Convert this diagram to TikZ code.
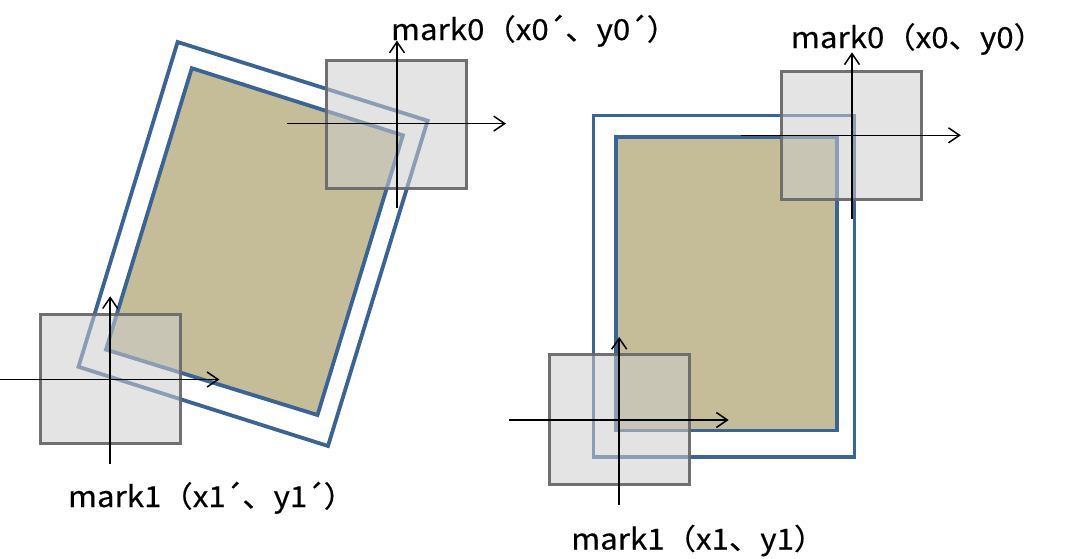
\documentclass[tikz,border=0pt]{standalone}
\usepackage{fontspec}
\setmainfont{Noto Sans CJK SC}[FakeStretch=1.08,FakeBold=0.4]
\usetikzlibrary{arrows.meta}
\definecolor{bluel}{HTML}{3B6496}
\definecolor{tanf}{HTML}{C4BD97}
\definecolor{sqf}{HTML}{CDCDCD}
\definecolor{sqd}{HTML}{6A6A6A}
\newcommand{\acu}{\kern-1.5pt´\kern-1pt}
\tikzset{
  outerbox/.style={draw=bluel, line width=3.8pt, fill=white, line join=miter},
  innerbox/.style={draw=bluel, line width=3.8pt, fill=tanf, line join=miter},
  marksq/.style={draw=sqd, draw opacity=0.95, line width=3pt, fill=sqf, fill opacity=0.55},
  axis/.style={draw=black, line width=1.5pt, -{Straight Barb[length=11pt,width=15pt,line width=1.5pt]}},
  lbl/.style={font=\fontsize{29}{33}\selectfont, inner sep=0pt, anchor=base west}
}
\begin{document}
\begin{tikzpicture}[x=1pt,y=-1pt]
\useasboundingbox (0,0) rectangle (1080,558);
% ---------- left (rotated) ----------
\coordinate (lo1) at (177.6,42);
\coordinate (lo2) at (427.6,120.7);
\coordinate (lo3) at (328,446);
\coordinate (lo4) at (78.5,366.8);
\coordinate (li1) at (191.8,68.2);
\coordinate (li2) at (402.9,135.3);
\coordinate (li3) at (317.5,415);
\coordinate (li4) at (106,349.6);
\path[outerbox] (lo1) -- (lo2) -- (lo3) -- (lo4) -- cycle;
\path[innerbox] (li1) -- (li2) -- (li3) -- (li4) -- cycle;
\path[marksq] (326.4,60.6) rectangle (466.6,188.4);
\path[marksq] (40.3,314.1) rectangle (180.4,443.6);
% axes left mark0
\coordinate (a0vs) at (397,208);
\coordinate (a0ve) at (397,40.6);
\coordinate (a0hs) at (286.5,123.6);
\coordinate (a0he) at (506,123.6);
\draw[axis] (a0vs) -- (a0ve);
\draw[axis] (a0hs) -- (a0he);
% axes left mark1
\coordinate (a1vs) at (110.2,464.3);
\coordinate (a1ve) at (110.2,296.2);
\coordinate (a1hs) at (0,379.5);
\coordinate (a1he) at (219.4,379.5);
\draw[axis] (a1vs) -- (a1ve);
\draw[axis] (a1hs) -- (a1he);
\node[lbl] (l0) at (390.8,40) {mark0（x0\acu、y0\acu）};
\node[lbl] (l1) at (67.8,507) {mark1（x1\acu、y1\acu）};
% ---------- right (aligned) ----------
\path[outerbox] (593.4,115.4) rectangle (854.4,457);
\path[innerbox] (615.8,137) rectangle (837.2,430.5);
\path[marksq] (781,71.6) rectangle (921.5,199.7);
\path[marksq] (549.3,354.8) rectangle (689.8,484.6);
\coordinate (b0vs) at (852,219.4);
\coordinate (b0ve) at (852,52.3);
\coordinate (b0hs) at (741.4,135.3);
\coordinate (b0he) at (960.8,135.3);
\draw[axis] (b0vs) -- (b0ve);
\draw[axis] (b0hs) -- (b0he);
\coordinate (b1vs) at (619.2,504.5);
\coordinate (b1ve) at (619.2,336.9);
\coordinate (b1hs) at (509,420);
\coordinate (b1he) at (728.7,420);
\draw[axis] (b1vs) -- (b1ve);
\draw[axis] (b1hs) -- (b1he);
\node[lbl] (r0) at (790.7,48) {mark0（x0、y0）};
\node[lbl] (r1) at (571,549.5) {mark1（x1、y1）};
\end{tikzpicture}
\end{document}
